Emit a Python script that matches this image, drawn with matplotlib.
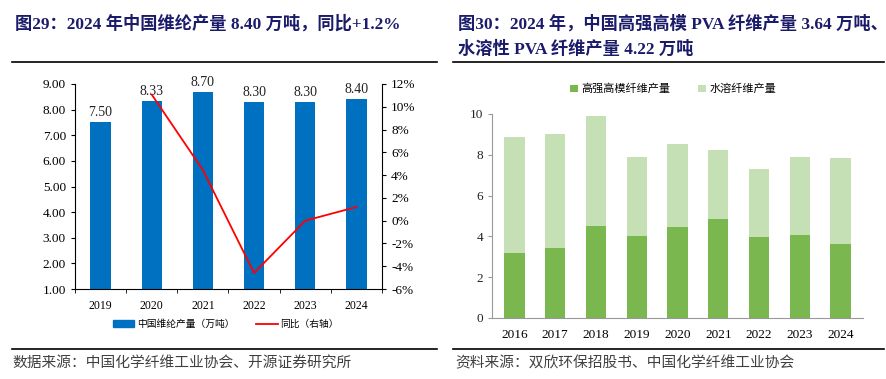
import numpy as np
import matplotlib.pyplot as plt
from matplotlib.lines import Line2D
from matplotlib.patches import Patch

plt.rcParams['font.family'] = ['Liberation Serif', 'Noto Sans CJK SC', 'DejaVu Sans']
CJK = ['Noto Sans CJK SC', 'DejaVu Sans']
MIX = ['Liberation Serif', 'Noto Sans CJK SC', 'DejaVu Sans']

# --- Data: left chart ---
years_l = ['2019', '2020', '2021', '2022', '2023', '2024']
output_l = [7.50, 8.33, 8.70, 8.30, 8.30, 8.40]
yoy_l = [np.nan, 11.07, 4.44, -4.60, 0.0, 1.20]

# --- Data: right chart ---
years_r = ['2016', '2017', '2018', '2019', '2020', '2021', '2022', '2023', '2024']
high_mod = [3.21, 3.45, 4.52, 4.03, 4.47, 4.86, 3.96, 4.06, 3.64]
water_sol = [5.64, 5.57, 5.40, 3.86, 4.04, 3.36, 3.34, 3.81, 4.22]

W, H = 887, 379
fig = plt.figure(figsize=(W / 100, H / 100), dpi=100)

def px_axes(x0, y0, x1, y1):
    return fig.add_axes([x0 / W, 1 - y1 / H, (x1 - x0) / W, (y1 - y0) / H])

title_c = '#1b1b6b'
fig.text(15 / W, 1 - 24 / H, '图29：2024 年中国维纶产量 8.40 万吨，同比+1.2%', family=MIX,
         fontsize=12.4, fontweight='bold', color=title_c, va='center')
fig.text(458 / W, 1 - 24 / H, '图30：2024 年，中国高强高模 PVA 纤维产量 3.64 万吨、', family=MIX,
         fontsize=12.4, fontweight='bold', color=title_c, va='center')
fig.text(458 / W, 1 - 49 / H, '水溶性 PVA 纤维产量 4.22 万吨', family=MIX,
         fontsize=12.4, fontweight='bold', color=title_c, va='center')

# separator lines
for x0, x1 in [(12, 437), (453, 884)]:
    fig.add_artist(Line2D([x0 / W, x1 / W], [1 - 62 / H] * 2, color='black', lw=1.2))
    fig.add_artist(Line2D([x0 / W, x1 / W], [1 - 349 / H] * 2, color='black', lw=1.2))

fig.text(12 / W, 1 - 363 / H, '数据来源：中国化学纤维工业协会、开源证券研究所', family=CJK,
         fontsize=10.6, color='#404040', va='center')
fig.text(455 / W, 1 - 363 / H, '资料来源：双欣环保招股书、中国化学纤维工业协会', family=CJK,
         fontsize=10.6, color='#404040', va='center')

# --- Left chart ---
ax = px_axes(75, 84, 382, 289)
x = np.arange(len(years_l))
ax.bar(x, [v - 1 for v in output_l], bottom=1, width=0.4, color='#0070C0', zorder=2)
for xi, v in zip(x, output_l):
    ax.text(xi, v + 0.12, f'{v:.2f}', ha='center', va='bottom', fontsize=10, color='#222222')
ax.set_ylim(1, 9)
ax.set_xlim(-0.5, len(x) - 0.5)
ax.set_yticks(np.arange(1, 10, 1))
ax.set_yticklabels([f'{v:.2f}' for v in range(1, 10)], fontsize=9.5)
ax.set_xticks(x)
ax.set_xticklabels(years_l, fontsize=8.5)
ax.set_xticks(np.arange(-0.5, len(x), 1), minor=True)
ax.tick_params(axis='x', which='major', length=0, pad=8)
ax.tick_params(axis='x', which='minor', length=3, direction='out')
ax.tick_params(axis='y', length=3, direction='out')
for s in ['top', 'right']:
    ax.spines[s].set_visible(False)
ax.spines['left'].set_linewidth(0.8)
ax.spines['bottom'].set_linewidth(0.8)

ax2 = ax.twinx()
ax2.plot(x, yoy_l, color='#FF0000', lw=1.3, zorder=3)
ax2.set_ylim(-6, 12)
ax2.set_yticks(np.arange(-6, 13, 2))
ax2.set_yticklabels([f'{v}%' for v in range(-6, 13, 2)], fontsize=9.5)
ax2.tick_params(axis='y', length=3, direction='out')
for s in ['top', 'left', 'bottom']:
    ax2.spines[s].set_visible(False)
ax2.spines['right'].set_linewidth(0.8)

handles = [Patch(color='#0070C0'), Line2D([], [], color='#FF0000', lw=1.3)]
fig.legend(handles, ['中国维纶产量（万吨）', '同比（右轴）'], prop={'family': CJK, 'size': 7},
           loc='center', bbox_to_anchor=(226 / W, 1 - 324 / H), ncol=2, frameon=False,
           handlelength=2.2, handleheight=0.6, columnspacing=2.2, handletextpad=0.3)

# --- Right chart ---
ax3 = px_axes(492, 114, 863, 318)
xr = np.arange(len(years_r))
dark_g, light_g = '#7AB74E', '#C5E0B4'
ax3.bar(xr, high_mod, width=0.5, color=dark_g, label='高强高模纤维产量')
ax3.bar(xr, water_sol, width=0.5, bottom=high_mod, color=light_g, label='水溶纤维产量')
ax3.set_ylim(0, 10)
ax3.set_xlim(-0.55, len(xr) - 0.45)
ax3.set_yticks(np.arange(0, 11, 2))
ax3.set_yticklabels([str(v) for v in range(0, 11, 2)], fontsize=9.5)
ax3.set_xticks(xr)
ax3.set_xticklabels(years_r, fontsize=9.5)
ax3.tick_params(axis='x', length=0, pad=8)
ax3.tick_params(axis='y', length=3, direction='out', colors='#222222')
ax3.tick_params(axis='y', color='#999999')
for s in ['top', 'right']:
    ax3.spines[s].set_visible(False)
ax3.spines['left'].set_color('#999999')
ax3.spines['bottom'].set_color('#999999')
fig.legend(*ax3.get_legend_handles_labels(), prop={'family': CJK, 'size': 8},
           loc='center', bbox_to_anchor=(673 / W, 1 - 89 / H), ncol=2, frameon=False,
           handlelength=0.7, handleheight=0.7, columnspacing=2.5, handletextpad=0.3)

fig.savefig('out.png', dpi=100)
